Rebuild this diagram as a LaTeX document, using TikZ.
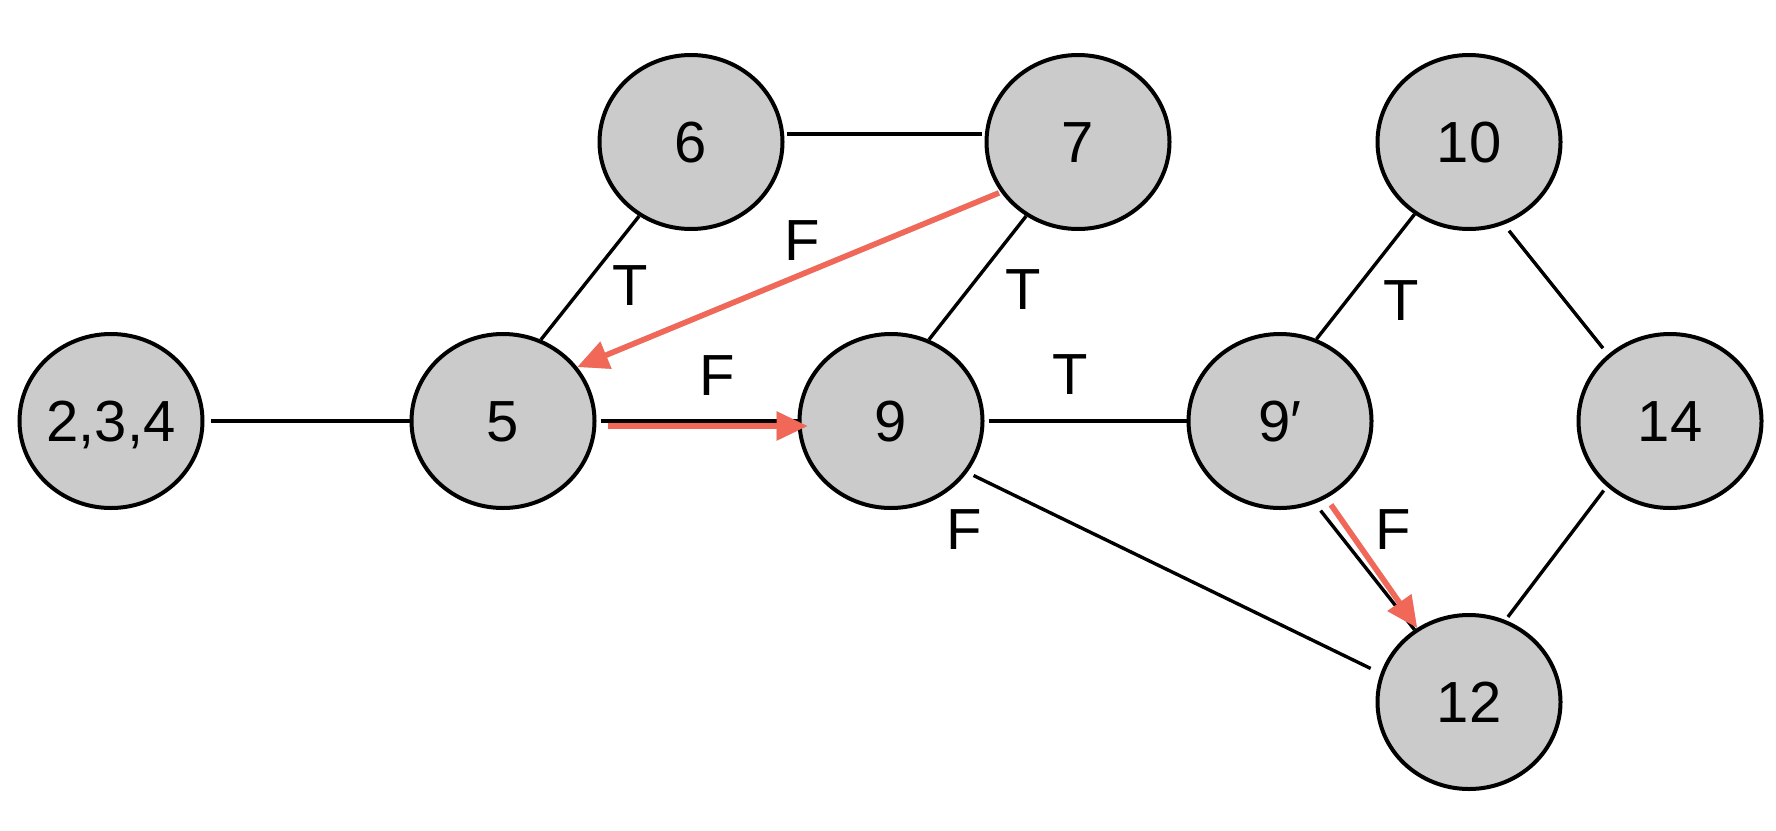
\documentclass[tikz,border=0pt]{standalone}
\usepackage{fontspec}
\setmainfont{Liberation Sans}
\usetikzlibrary{shapes.geometric,arrows.meta}
\definecolor{nodegray}{RGB}{203,203,203}
\definecolor{flowred}{RGB}{242,104,88}
\begin{document}
\begin{tikzpicture}[x=1pt,y=-1pt,
  state/.style={ellipse, draw=black, line width=4pt, fill=nodegray,
    minimum width=183pt, minimum height=174pt, inner sep=0pt,
    font=\fontsize{58}{60}\selectfont, text height=41pt, text depth=0pt},
  edge/.style={draw=black, line width=3.4pt},
  lbl/.style={font=\fontsize{58}{60}\selectfont, inner sep=0pt,
    text height=41pt, text depth=0pt},
  flow/.style={draw=flowred, line width=5.5pt,
    -{Triangle[length=31pt,width=28pt]}},
  flowshade/.style={draw=black, opacity=0.22, line width=5.5pt,
    -{Triangle[length=31pt,width=28pt]}, xshift=1.5pt, yshift=-2pt}
]
\useasboundingbox (0,0) rectangle (1776,830);

% states
\node[state] (n234) at (111,421) {2,3,4};
\node[state] (n5)   at (503,421) {5};
\node[state] (n6)   at (691,142) {6};
\node[state] (n7)   at (1078,142) {7};
\node[state] (n9)   at (891,421) {9};
\node[state] (n9p)  at (1280,421) {9′};
\node[state] (n10)  at (1469,142) {10};
\node[state] (n14)  at (1670,421) {14};
\node[state] (n12)  at (1469,702) {12};

% plain edges
\draw[edge, shorten <=6pt] (n234.east) -- (n5.west);
\draw[edge] (n5.65) -- (n6.235);
\draw[edge, shorten <=3pt, shorten >=3pt] (n6.5) -- (n7.175);
\draw[edge] (n7.235) -- (n9.65);
\draw[edge, shorten <=4pt] (n5.east) -- (n9.west);
\draw[edge, shorten <=4pt] (n9.east) -- (n9p.west);
\draw[edge, shorten <=7pt, shorten >=11pt] (n9.-34) -- (n12.162);
\draw[edge, shorten <=9pt] (n9p.-67) -- (n12.127);
\draw[edge] (n9p.66) -- (n10.233);
\draw[edge, shorten <=8pt, shorten >=8pt] (n10.-67) -- (n14.133);
\draw[edge, shorten <=5pt, shorten >=4pt] (n14.226) -- (n12.66);

% highlighted path
\draw[flowshade, shorten <=2pt] (n7.213) -- (n5.36);
\draw[flow, shorten <=2pt] (n7.213) -- (n5.36);
\draw[flowshade, shorten <=11pt, shorten >=-10pt] ([yshift=-5pt]n5.east) -- ([yshift=-5pt]n9.west);
\draw[flow, shorten <=11pt, shorten >=-10pt] ([yshift=-5pt]n5.east) -- ([yshift=-5pt]n9.west);
\draw[flowshade, shorten <=8pt] (n9p.-59) -- (n12.125);
\draw[flow, shorten <=8pt] (n9p.-59) -- (n12.125);

% branch labels
\node[lbl] (t56)   at (630,285)  {T};
\node[lbl] (f75)   at (802,240)  {F};
\node[lbl] (t79)   at (1023,289) {T};
\node[lbl] (f59)   at (717,375)  {F};
\node[lbl] (t99p)  at (1070,374) {T};
\node[lbl] (f912)  at (964,529)  {F};
\node[lbl] (f9p12) at (1393,529) {F};
\node[lbl] (t9p10) at (1401,300) {T};
\end{tikzpicture}
\end{document}
